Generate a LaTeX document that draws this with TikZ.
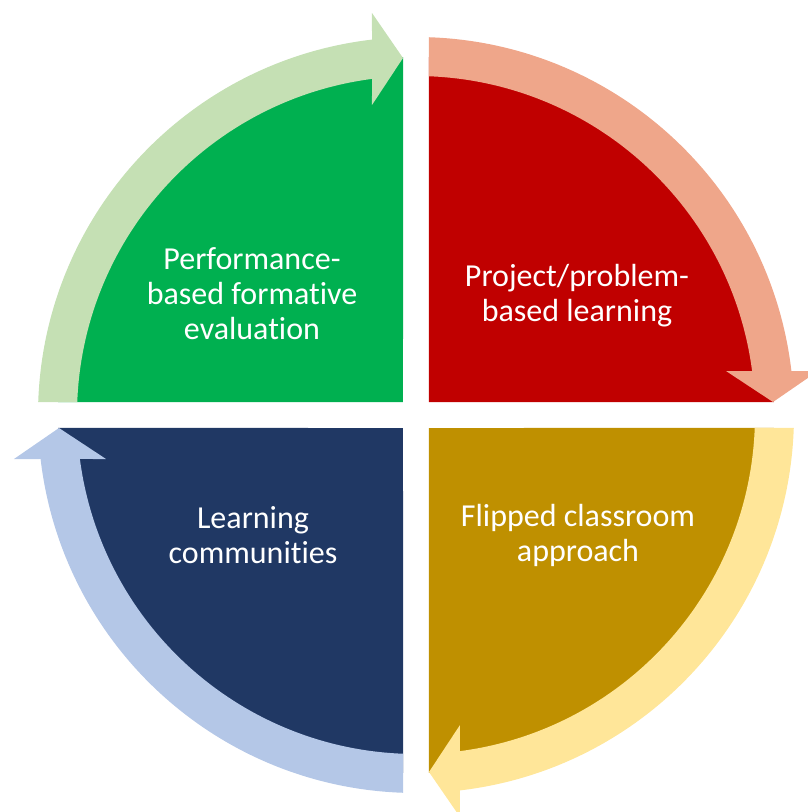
\documentclass[tikz,border=0pt]{standalone}
\usepackage{fontspec}
\setmainfont[Ligatures=NoCommon]{Carlito}
\usepackage{tikz}
\usetikzlibrary{positioning}

\definecolor{perfgreen}{HTML}{00B050}
\definecolor{perflight}{HTML}{C5E0B4}
\definecolor{projred}{HTML}{C00000}
\definecolor{projlight}{HTML}{EFA68A}
\definecolor{flipgold}{HTML}{BF9000}
\definecolor{fliplight}{HTML}{FFE699}
\definecolor{commnavy}{HTML}{203864}
\definecolor{commlight}{HTML}{B4C7E7}

\begin{document}
\begin{tikzpicture}[
  x=1pt, y=1pt,
  every node/.style={font=\fontsize{32}{35}\selectfont, text=white, align=center}
]
\useasboundingbox (-416,-397) rectangle (392,415);
\clip (-416,-397) rectangle (392,415);

% quarter pies: (rotation, colour)
\def\piece#1#2{%
  \fill[#2, rotate=#1] (13,13) -- ({acos(13/358)}:358)
    arc[start angle={acos(13/358)}, end angle={asin(13/358)}, radius=358] -- cycle;
}
\piece{0}{projred}
\piece{-90}{flipgold}
\piece{-180}{commnavy}
\piece{90}{perfgreen}

% curved arrows round the pies: (rotation, colour)
\def\turnarrow#1#2{%
  \fill[#2, rotate=#1] ({acos(13/378)}:378)
    arc[start angle={acos(13/378)}, end angle={asin(44/378)}, radius=378]
    -- (402,44) -- (357,13) -- (310,44) -- ({asin(44/339)}:339)
    arc[start angle={asin(44/339)}, end angle={acos(13/339)}, radius=339] -- cycle;
}
\turnarrow{0}{projlight}
\turnarrow{-90}{fliplight}
\turnarrow{-180}{commlight}
\turnarrow{90}{perflight}

% labels
\node (proj) at (161,119) {Project/problem-\\based learning};
\node (flip) at (162,-120) {Flipped classroom\\approach};
\node (comm) at (-163,-120) {Learning\\communities};
\node (perf) at (-164,121) {Performance-\\based formative\\evaluation};
\end{tikzpicture}
\end{document}
